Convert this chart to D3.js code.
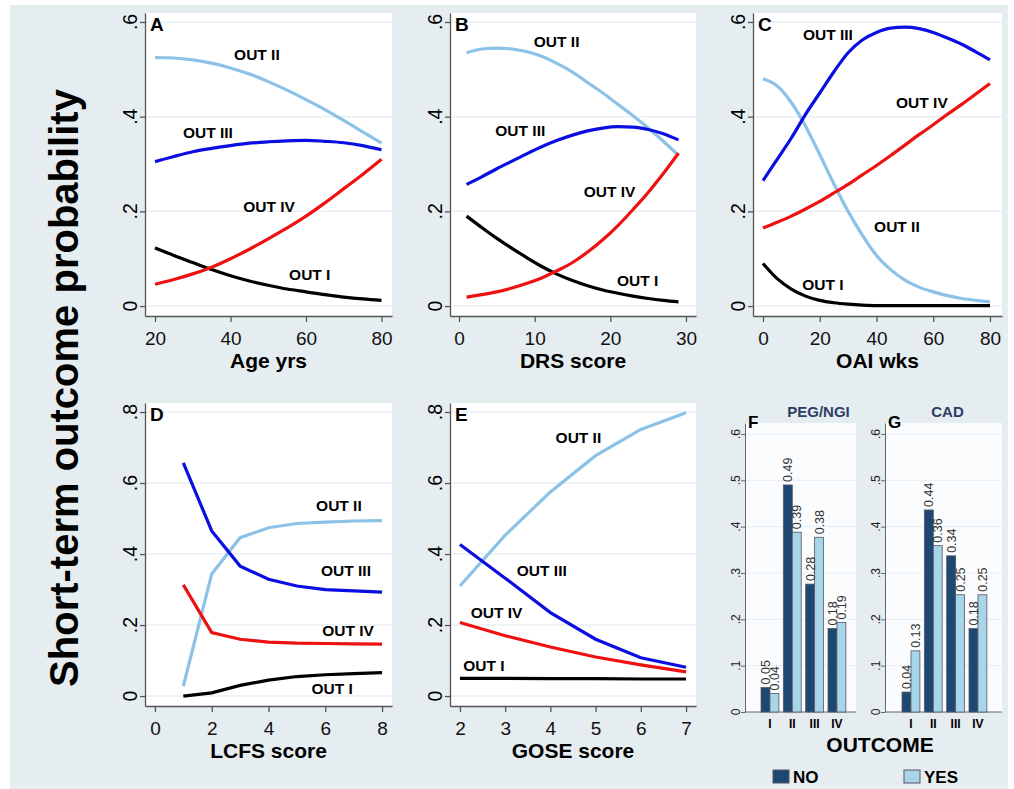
<!DOCTYPE html>
<html>
<head>
<meta charset="utf-8">
<script src="https://cdn.jsdelivr.net/npm/d3@7"></script>
<style>
body { margin: 0; background: #fff; }
svg { display: block; font-family: "Liberation Sans", Arial, sans-serif; }
</style>
</head>
<body>
<svg width="1014" height="789"></svg>
<script>
// ---- data ----
var outNames = ["OUT I", "OUT II", "OUT III", "OUT IV"];

// A: age
var ageX   = [20, 25, 30, 35, 40, 45, 50, 55, 60, 65, 70, 75, 80];
var ageI   = [0.123, 0.107, 0.092, 0.077, 0.064, 0.053, 0.044, 0.036, 0.030, 0.024, 0.019, 0.015, 0.012];
var ageII  = [0.525, 0.524, 0.520, 0.513, 0.503, 0.490, 0.474, 0.456, 0.436, 0.415, 0.392, 0.368, 0.344];
var ageIII = [0.305, 0.316, 0.326, 0.333, 0.339, 0.344, 0.347, 0.349, 0.350, 0.348, 0.345, 0.339, 0.330];
var ageIV  = [0.046, 0.056, 0.068, 0.082, 0.100, 0.120, 0.142, 0.165, 0.190, 0.218, 0.248, 0.278, 0.310];

// B: DRS
var drsX   = [1, 3, 5, 7, 9, 11, 13, 15, 17, 19, 21, 23, 25, 27, 29];
var drsI   = [0.190, 0.166, 0.143, 0.122, 0.102, 0.083, 0.067, 0.054, 0.043, 0.034, 0.027, 0.021, 0.016, 0.012, 0.009];
var drsII  = [0.535, 0.543, 0.545, 0.543, 0.537, 0.527, 0.512, 0.494, 0.472, 0.450, 0.426, 0.402, 0.376, 0.348, 0.318];
var drsIII = [0.257, 0.273, 0.290, 0.306, 0.322, 0.337, 0.350, 0.361, 0.370, 0.376, 0.379, 0.378, 0.373, 0.364, 0.351];
var drsIV  = [0.019, 0.024, 0.030, 0.038, 0.048, 0.060, 0.075, 0.092, 0.114, 0.140, 0.170, 0.204, 0.240, 0.280, 0.323];

// C: OAI
var oaiX   = [0, 5, 10, 15, 20, 25, 30, 35, 40, 45, 50, 55, 60, 65, 70, 75, 80];
var oaiI   = [0.090, 0.058, 0.036, 0.021, 0.012, 0.007, 0.004, 0.002, 0.001, 0.001, 0.001, 0.001, 0.001, 0.001, 0.001, 0.001, 0.001];
var oaiII  = [0.480, 0.465, 0.430, 0.380, 0.320, 0.258, 0.200, 0.150, 0.107, 0.077, 0.055, 0.040, 0.030, 0.022, 0.016, 0.012, 0.009];
var oaiIII = [0.265, 0.310, 0.355, 0.405, 0.450, 0.495, 0.535, 0.562, 0.578, 0.587, 0.589, 0.586, 0.578, 0.566, 0.553, 0.537, 0.520];
var oaiIV  = [0.165, 0.177, 0.190, 0.205, 0.221, 0.239, 0.257, 0.277, 0.297, 0.318, 0.340, 0.362, 0.383, 0.405, 0.426, 0.448, 0.470];

// D: LCFS
var lcfsX   = [1, 2, 3, 4, 5, 6, 7, 8];
var lcfsI   = [0.000, 0.009, 0.030, 0.045, 0.055, 0.060, 0.063, 0.066];
var lcfsII  = [0.028, 0.344, 0.446, 0.474, 0.486, 0.490, 0.493, 0.494];
var lcfsIII = [0.657, 0.465, 0.366, 0.329, 0.310, 0.300, 0.296, 0.293];
var lcfsIV  = [0.313, 0.179, 0.160, 0.152, 0.149, 0.148, 0.147, 0.146];

// E: GOSE
var goseX   = [2, 3, 4, 5, 6, 7];
var goseI   = [0.050, 0.050, 0.049, 0.049, 0.048, 0.048];
var goseII  = [0.310, 0.453, 0.575, 0.677, 0.751, 0.798];
var goseIII = [0.427, 0.332, 0.235, 0.160, 0.108, 0.081];
var goseIV  = [0.207, 0.170, 0.138, 0.110, 0.088, 0.068];

// label spots (data units) for OUT I..IV
var ageLab  = [[61.0, 0.066], [47.0, 0.532], [34.0, 0.366], [50.2, 0.211]];
var drsLab  = [[23.6, 0.055], [12.9, 0.558], [8.1, 0.370], [19.9, 0.243]];
var oaiLab  = [[21.1, 0.046], [47.2, 0.167], [22.9, 0.573], [56.0, 0.429]];
var lcfsLab = [[6.24, 0.020], [6.48, 0.538], [6.73, 0.355], [6.80, 0.186]];
var goseLab = [[2.53, 0.085], [4.62, 0.727], [3.81, 0.355], [2.81, 0.234]];

// F / G bars
var outcomes = ["I", "II", "III", "IV"];
var groups = ["NO", "YES"];
var pegNo  = [0.053, 0.490, 0.276, 0.180];
var pegYes = [0.040, 0.388, 0.377, 0.193];
var cadNo  = [0.043, 0.436, 0.337, 0.180];
var cadYes = [0.132, 0.359, 0.253, 0.253];

// ---- drawing ----
var lineColors = ["#000000", "#8cc2e8", "#0a0ee0", "#ee1111"];
var barColors = {NO: "#1d4872", YES: "#a8d5e7"};

var svg = d3.select("svg");
svg.append("rect").attr("x", 10).attr("y", 5).attr("width", 998).attr("height", 784).attr("fill", "#e6edf1");

function yFmt(d) { return d === 0 ? "0" : d3.format(".1f")(d).replace(/^0/, ""); }

function linePanel(p) {
  var x = d3.scaleLinear().domain(p.xd).range([p.l, p.r]);
  var y = d3.scaleLinear().domain(p.yd).range([p.b, p.t]);
  var g = svg.append("g");
  g.append("rect").attr("x", p.l).attr("y", p.t).attr("width", p.r - p.l).attr("height", p.b - p.t).attr("fill", "#fff");
  g.selectAll(".grid").data(p.yt).enter().append("line")
    .attr("x1", p.l).attr("x2", p.r).attr("y1", d => y(d)).attr("y2", d => y(d))
    .attr("stroke", "#e9eff3").attr("stroke-width", 1.5);

  var ya = g.append("g").attr("transform", "translate(" + p.l + ",0)")
    .call(d3.axisLeft(y).tickValues(p.yt).tickSize(5).tickSizeOuter(0).tickFormat(""));
  ya.selectAll("line,path").attr("stroke", "#555").attr("stroke-width", 1.3);
  g.selectAll(".ylab").data(p.yt).enter().append("text")
    .attr("transform", d => "translate(" + (p.l - 8) + "," + y(d) + ") rotate(-90)")
    .attr("text-anchor", "middle").attr("font-size", 19.5).text(yFmt);

  var xa = g.append("g").attr("transform", "translate(0," + p.b + ")")
    .call(d3.axisBottom(x).tickValues(p.xt).tickSize(6).tickSizeOuter(0).tickFormat(d3.format("d")));
  xa.selectAll("line,path").attr("stroke", "#555").attr("stroke-width", 1.3);
  xa.selectAll("text").attr("font-size", 19).attr("font-family", "Liberation Sans, Arial, sans-serif")
    .attr("fill", "#111").attr("dy", "0").attr("y", 29);

  g.append("text").attr("x", (p.l + p.r) / 2).attr("y", p.b + 52).attr("text-anchor", "middle")
    .attr("font-size", 21).attr("font-weight", "bold").text(p.title);
  g.append("text").attr("x", p.l + 5).attr("y", p.t + 18).attr("font-size", 19).attr("font-weight", "bold").text(p.tag);

  var line = d3.line().x(d => x(d[0])).y(d => y(d[1])).curve(p.curve);
  p.series.forEach(function(s, i) {
    g.append("path").datum(p.xs.map((v, k) => [v, s[k]]))
      .attr("d", line).attr("fill", "none").attr("stroke", lineColors[i]).attr("stroke-width", 3.2);
  });
  p.labs.forEach(function(a, i) {
    g.append("text").attr("x", x(a[0])).attr("y", y(a[1]) + 5.5).attr("text-anchor", "middle")
      .attr("font-size", 15.5).attr("font-weight", "bold").text(outNames[i]);
  });
}

linePanel({l: 145, r: 392, t: 13, b: 316, xd: [17.35, 82.78], yd: [-0.021, 0.619], xt: [20, 40, 60, 80], yt: [0, 0.2, 0.4, 0.6],
  xs: ageX, series: [ageI, ageII, ageIII, ageIV], labs: ageLab, title: "Age yrs", tag: "A", curve: d3.curveMonotoneX});
linePanel({l: 450, r: 696, t: 13, b: 316, xd: [-1.19, 31.32], yd: [-0.021, 0.619], xt: [0, 10, 20, 30], yt: [0, 0.2, 0.4, 0.6],
  xs: drsX, series: [drsI, drsII, drsIII, drsIV], labs: drsLab, title: "DRS score", tag: "B", curve: d3.curveMonotoneX});
linePanel({l: 753, r: 1002, t: 13, b: 316, xd: [-3.52, 84.23], yd: [-0.021, 0.619], xt: [0, 20, 40, 60, 80], yt: [0, 0.2, 0.4, 0.6],
  xs: oaiX, series: [oaiI, oaiII, oaiIII, oaiIV], labs: oaiLab, title: "OAI wks", tag: "C", curve: d3.curveMonotoneX});
linePanel({l: 145, r: 392, t: 403, b: 706, xd: [-0.35, 8.35], yd: [-0.028, 0.8254], xt: [0, 2, 4, 6, 8], yt: [0, 0.2, 0.4, 0.6, 0.8],
  xs: lcfsX, series: [lcfsI, lcfsII, lcfsIII, lcfsIV], labs: lcfsLab, title: "LCFS score", tag: "D", curve: d3.curveLinear});
linePanel({l: 450, r: 696, t: 403, b: 706, xd: [1.78, 7.22], yd: [-0.028, 0.8254], xt: [2, 3, 4, 5, 6, 7], yt: [0, 0.2, 0.4, 0.6, 0.8],
  xs: goseX, series: [goseI, goseII, goseIII, goseIV], labs: goseLab, title: "GOSE score", tag: "E", curve: d3.curveLinear});

function barPanel(p) {
  var y = d3.scaleLinear().domain([0, 0.6237]).range([p.b, p.t]);
  var x0 = d3.scaleBand().domain(outcomes).range(p.band).paddingInner(0.2).paddingOuter(0.1);
  var x1 = d3.scaleBand().domain(groups).range([0, x0.bandwidth()]);
  var yt = [0, 0.1, 0.2, 0.3, 0.4, 0.5, 0.6];
  var g = svg.append("g");
  g.append("rect").attr("x", p.l).attr("y", p.t).attr("width", p.r - p.l).attr("height", p.b - p.t).attr("fill", "#fbfcfd");
  g.selectAll(".grid").data(yt.slice(1)).enter().append("line")
    .attr("x1", p.l).attr("x2", p.r).attr("y1", d => y(d)).attr("y2", d => y(d))
    .attr("stroke", "#e9eff3").attr("stroke-width", 1.2);
  var ya = g.append("g").attr("transform", "translate(" + p.l + ",0)")
    .call(d3.axisLeft(y).tickValues(yt).tickSize(4).tickSizeOuter(0).tickFormat(""));
  ya.selectAll("line,path").attr("stroke", "#666").attr("stroke-width", 1);
  g.selectAll(".ylab").data(yt).enter().append("text")
    .attr("transform", d => "translate(" + (p.l - 5) + "," + y(d) + ") rotate(-90)")
    .attr("text-anchor", "middle").attr("font-size", 12).attr("fill", "#222").text(yFmt);
  g.append("line").attr("x1", p.l).attr("x2", p.r).attr("y1", p.b).attr("y2", p.b).attr("stroke", "#666");

  var rows = outcomes.map((c, i) => ({cat: c, vals: [{k: "NO", v: p.no[i]}, {k: "YES", v: p.yes[i]}]}));
  var cg = g.selectAll(".cat").data(rows).enter().append("g")
    .attr("transform", d => "translate(" + x0(d.cat) + ",0)");
  cg.selectAll("rect").data(d => d.vals).enter().append("rect")
    .attr("x", d => x1(d.k)).attr("y", d => y(d.v)).attr("width", x1.bandwidth()).attr("height", d => p.b - y(d.v))
    .attr("fill", d => barColors[d.k]).attr("stroke", "#556").attr("stroke-width", 0.8);
  cg.selectAll(".vl").data(d => d.vals).enter().append("text")
    .attr("transform", d => "translate(" + (x1(d.k) + x1.bandwidth() / 2 + 4.5) + "," + (y(d.v) - 3) + ") rotate(-90)")
    .attr("font-size", 12.5).attr("fill", "#333").text(d => d3.format(".2f")(d.v));
  g.selectAll(".cl").data(outcomes).enter().append("text")
    .attr("x", d => x0(d) + x0.bandwidth() / 2).attr("y", p.b + 16).attr("text-anchor", "middle")
    .attr("font-size", 12).attr("font-weight", "bold").text(d => d);

  g.append("text").attr("x", (p.l + p.r) / 2 + p.tdx).attr("y", p.t - 6).attr("text-anchor", "middle")
    .attr("font-size", 15).attr("font-weight", "bold").attr("fill", "#2c3e62").text(p.title);
  g.append("text").attr("x", p.l + 3).attr("y", p.t + 5).attr("font-size", 17).attr("font-weight", "bold").text(p.tag);
}

barPanel({l: 745, r: 856, t: 423, b: 712, band: [758.8, 848.1], no: pegNo, yes: pegYes, title: "PEG/NGI", tag: "F", tdx: 18});
barPanel({l: 885, r: 1002, t: 423, b: 712, band: [899.8, 989.1], no: cadNo, yes: cadYes, title: "CAD", tag: "G", tdx: 4});

svg.append("text").attr("x", 880).attr("y", 752).attr("text-anchor", "middle")
  .attr("font-size", 21).attr("font-weight", "bold").text("OUTCOME");

var leg = svg.selectAll(".leg").data(groups).enter().append("g")
  .attr("transform", (d, i) => "translate(" + (773 + i * 131) + ",770)");
leg.append("rect").attr("width", 16).attr("height", 13).attr("fill", d => barColors[d]).attr("stroke", "#556");
leg.append("text").attr("x", 20).attr("y", 13).attr("font-size", 17).attr("font-weight", "bold").text(d => d);

svg.append("text").attr("transform", "translate(78,388) rotate(-90)").attr("text-anchor", "middle")
  .attr("font-size", 40).attr("font-weight", "bold").text("Short-term outcome probability");
</script>
</body>
</html>
